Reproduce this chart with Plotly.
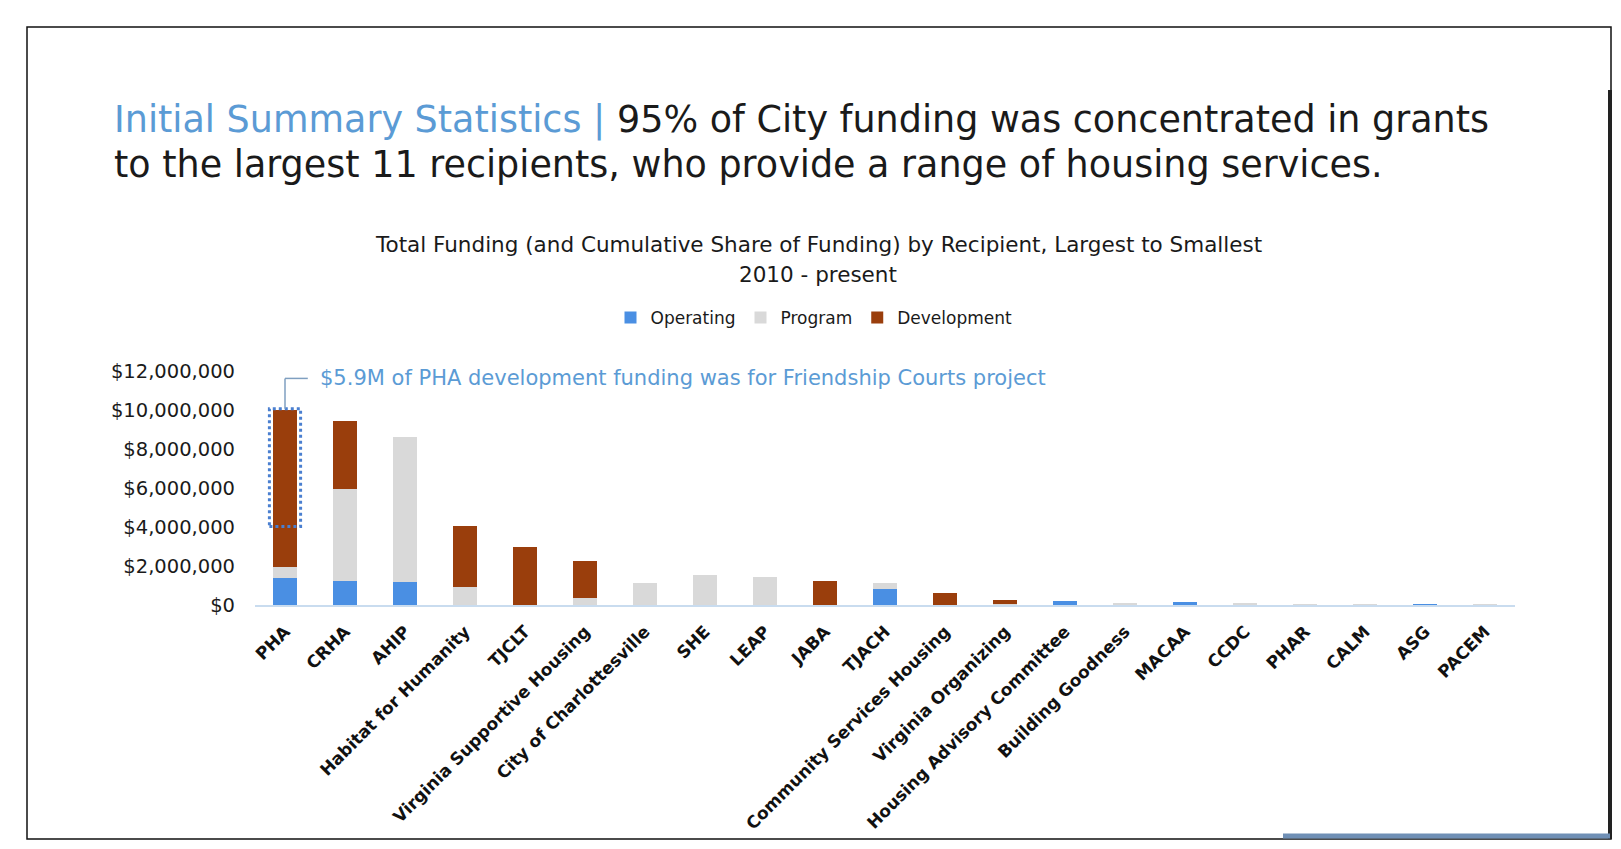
import plotly.graph_objects as go

# ---- data (USD millions) ----
recipients = ["PHA", "CRHA", "AHIP", "Habitat for Humanity", "TJCLT",
              "Virginia Supportive Housing", "City of Charlottesville", "SHE", "LEAP",
              "JABA", "TJACH", "Community Services Housing", "Virginia Organizing",
              "Housing Advisory Committee", "Building Goodness", "MACAA", "CCDC",
              "PHAR", "CALM", "ASG", "PACEM"]
operating = [1.40, 1.22, 1.17, 0, 0, 0, 0, 0, 0, 0, 0.84, 0, 0, 0.19, 0, 0.14, 0, 0, 0, 0.01, 0]
program = [0.55, 4.73, 7.46, 0.93, 0, 0.36, 1.14, 1.53, 1.43, 0, 0.29, 0, 0.03, 0, 0.09, 0, 0.06, 0.02, 0.01, 0, 0.01]
development = [8.07, 3.47, 0, 3.14, 2.97, 1.88, 0, 0, 0, 1.25, 0, 0.63, 0.22, 0, 0, 0, 0, 0, 0, 0, 0]
friendship_courts = 5.9
y_ticks = [0, 2, 4, 6, 8, 10, 12]

M = 1e6
W, H = 1621, 849
L, R, T, B = 247, 1507, 363, 597  # plot area in pixels


def px(x):
    return (x - L) / (R - L)


def py(y):
    return (B - y) / (B - T)


FONT = "DejaVu Sans"
BLUE_TXT = "#5B9BD5"
TXT = "#1a1a1a"

fig = go.Figure()
series = [("Operating", operating, "#4A8FE3"),
          ("Program", program, "#D9D9D9"),
          ("Development", development, "#9A3E0C")]
for name, vals, col in series:
    fig.add_trace(go.Bar(x=recipients, y=[v * M for v in vals], name=name,
                         marker=dict(color=col, line=dict(width=0))))

total_pha = (operating[0] + program[0] + development[0]) * M
box_bottom = total_pha - friendship_courts * M

shapes = [
    dict(type="rect", xref="x", yref="y", x0=-0.26, x1=0.26,
         y0=box_bottom - 0.1 * M, y1=total_pha + 0.05 * M,
         line=dict(color="#4A7FD0", width=3, dash="dot")),
    dict(type="line", xref="x", yref="y", x0=0, x1=0,
         y0=total_pha + 0.05 * M, y1=total_pha + 1.6 * M,
         line=dict(color="#7F9FC0", width=1.5)),
    dict(type="line", xref="x", yref="y", x0=0, x1=0.38,
         y0=total_pha + 1.6 * M, y1=total_pha + 1.6 * M,
         line=dict(color="#7F9FC0", width=1.5)),
    dict(type="rect", xref="paper", yref="paper", x0=px(19), x1=px(1603),
         y0=py(831), y1=py(19), line=dict(color="#111111", width=1.5)),
    dict(type="line", xref="paper", yref="paper", x0=px(1602), x1=px(1602),
         y0=py(831), y1=py(82), line=dict(color="#222222", width=4)),
    dict(type="line", xref="paper", yref="paper", x0=px(1275), x1=px(1602),
         y0=py(828), y1=py(828), line=dict(color="#6F8FB5", width=5)),
]

annotations = [
    dict(xref="paper", yref="paper", x=px(104), y=py(112), xanchor="left", yanchor="middle",
         align="left", showarrow=False,
         text=f'<span style="color:{BLUE_TXT}">Initial Summary Statistics | </span>'
              '95% of City funding was concentrated in grants',
         font=dict(family=FONT, size=36.5, color=TXT)),
    dict(xref="paper", yref="paper", x=px(104), y=py(156), xanchor="left", yanchor="middle",
         align="left", showarrow=False,
         text='to the largest 11 recipients, who provide a range of housing services.',
         font=dict(family=FONT, size=36.5, color=TXT)),
    dict(xref="paper", yref="paper", x=px(810), y=py(236), xanchor="center", yanchor="middle",
         showarrow=False,
         text="Total Funding (and Cumulative Share of Funding) by Recipient, Largest to Smallest",
         font=dict(family=FONT, size=21.5, color=TXT)),
    dict(xref="paper", yref="paper", x=px(810), y=py(266), xanchor="center", yanchor="middle",
         showarrow=False, text="2010 - present",
         font=dict(family=FONT, size=21.5, color=TXT)),
    dict(xref="x", yref="y", x=0.55, y=total_pha + 1.6 * M, xanchor="left", yanchor="middle",
         showarrow=False,
         text="$5.9M of PHA development funding was for Friendship Courts project",
         font=dict(family=FONT, size=21, color=BLUE_TXT)),
]

fig.update_layout(
    width=W, height=H,
    margin=dict(l=L, r=W - R, t=T, b=H - B, pad=0),
    paper_bgcolor="white", plot_bgcolor="white",
    barmode="stack", bargap=0.61,
    font=dict(family=FONT, color=TXT),
    showlegend=True,
    legend=dict(orientation="h", x=px(806), y=py(310), xanchor="center", yanchor="middle",
                font=dict(family=FONT, size=17, color=TXT),
                itemwidth=30, traceorder="normal"),
    shapes=shapes, annotations=annotations,
)
fig.update_xaxes(type="category", tickangle=-45, showgrid=False, showline=True,
                 linecolor="#C9DCEF", linewidth=2, ticks="",
                 ticklabelstandoff=8,
                 tickfont=dict(family=FONT, size=17, color="#111111", weight="bold"))
fig.update_yaxes(range=[0, 12 * M], tickvals=[v * M for v in y_ticks], tickformat="$,.0f",
                 showgrid=False, zeroline=False, showline=False, ticks="",
                 ticklabelstandoff=19,
                 tickfont=dict(family=FONT, size=19.5, color=TXT))

fig.write_html("out.html")
